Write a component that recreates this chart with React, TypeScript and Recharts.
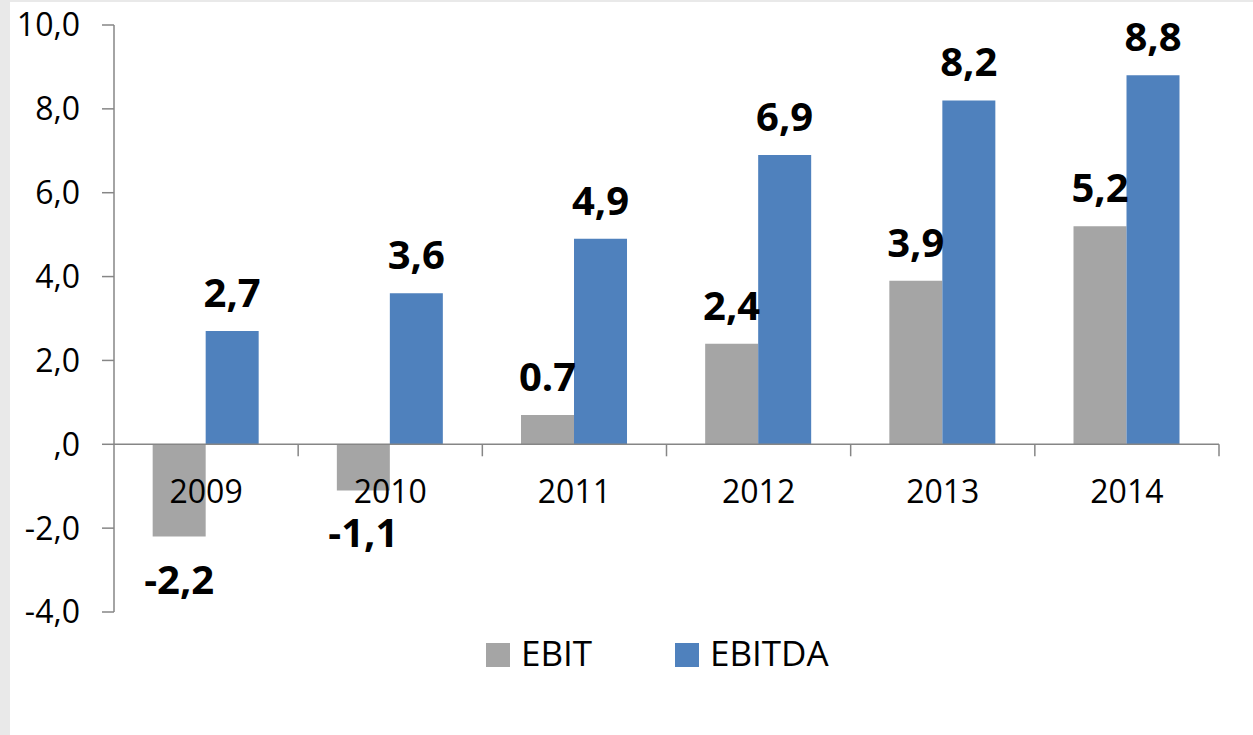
import React from 'react';
import { BarChart, Bar, XAxis, YAxis, ReferenceLine, LabelList } from 'recharts';

const years = ['2009', '2010', '2011', '2012', '2013', '2014'];
const ebit = [-2.2, -1.1, 0.7, 2.4, 3.9, 5.2];
const ebitda = [2.7, 3.6, 4.9, 6.9, 8.2, 8.8];
const ebitLabels = ['-2,2', '-1,1', '0.7', '2,4', '3,9', '5,2'];
const ebitdaLabels = ['2,7', '3,6', '4,9', '6,9', '8,2', '8,8'];
const yTicks = [-4, -2, 0, 2, 4, 6, 8, 10];
const yTickLabels = ['-4,0', '-2,0', ',0', '2,0', '4,0', '6,0', '8,0', '10,0'];

const series = [
  { key: 'ebit', name: 'EBIT', color: '#A5A5A5', values: ebit, labels: ebitLabels },
  { key: 'ebitda', name: 'EBITDA', color: '#4F81BD', values: ebitda, labels: ebitdaLabels },
];

const data = years.map((year, i) => ({ year, ebit: ebit[i], ebitda: ebitda[i] }));

const FONT = '"Open Sans", sans-serif';
const AXIS = '#868686';

const makeValueLabel = (values: number[], labels: string[]) => (props: any) => {
  const { x, y, width, height, value } = props;
  const i = props.index ?? values.indexOf(value);
  const top = Math.min(y, y + height);
  const bottom = Math.max(y, y + height);
  const ty = value < 0 ? bottom + 57 : top - 24;
  return (
    <text x={x + width / 2} y={ty} textAnchor="middle" fontSize={40} fontWeight={700} fill="#000" fontFamily={FONT}>
      {labels[i]}
    </text>
  );
};

// zero line acting as the category axis, with boundary ticks and year labels
const ZeroAxis = (props: any) => {
  const { x1, y1, x2 } = props;
  const band = (x2 - x1) / years.length;
  return (
    <g>
      <line x1={x1} y1={y1} x2={x2} y2={y1} stroke={AXIS} strokeWidth={1.5} />
      {years.map((_, k) => (
        <line key={'t' + k} x1={x1 + (k + 1) * band} y1={y1} x2={x1 + (k + 1) * band} y2={y1 + 12} stroke={AXIS} strokeWidth={1.5} />
      ))}
      {years.map((yr, k) => (
        <text key={yr} x={x1 + (k + 0.5) * band} y={y1 + 59} textAnchor="middle" fontSize={32} fill="#000" fontFamily={FONT}>
          {yr}
        </text>
      ))}
    </g>
  );
};

const App: React.FC = () => {
  return (
    <div style={{ position: 'absolute', left: 0, top: 0, width: 1253, height: 735, background: '#e9e9e9' }}>
      <div style={{ position: 'absolute', left: 10, top: 2, width: 1243, height: 733, background: '#fff' }} />
      <div style={{ position: 'absolute', left: 0, top: 0 }}>
        <BarChart width={1253} height={735} data={data} margin={{ top: 25, right: 34, left: 0, bottom: 123 }} barCategoryGap="21%" barGap={0}>
          <XAxis dataKey="year" hide />
          <YAxis
            width={114}
            domain={[-4, 10]}
            ticks={yTicks}
            interval={0}
            tickSize={12}
            tickMargin={22}
            axisLine={{ stroke: AXIS, strokeWidth: 1.5 }}
            tickLine={{ stroke: AXIS, strokeWidth: 1.5 }}
            tick={{ fontSize: 32, fill: '#000', fontFamily: FONT }}
            tickFormatter={(v: number) => yTickLabels[yTicks.indexOf(v)]}
          />
          {series.map(s => (
            <Bar key={s.key} dataKey={s.key} name={s.name} fill={s.color} isAnimationActive={false}>
              <LabelList dataKey={s.key} content={makeValueLabel(s.values, s.labels)} />
            </Bar>
          ))}
          <ReferenceLine y={0} shape={ZeroAxis} />
        </BarChart>
      </div>
      <svg style={{ position: 'absolute', left: 0, top: 0 }} width={1253} height={735}>
        <rect x={486} y={643} width={24} height={24} fill={series[0].color} />
        <text x={521} y={666} fontSize={35} fill="#000" fontFamily={FONT}>{series[0].name}</text>
        <rect x={675} y={643} width={24} height={24} fill={series[1].color} />
        <text x={710} y={666} fontSize={35} fill="#000" fontFamily={FONT}>{series[1].name}</text>
      </svg>
    </div>
  );
};

export default App;
